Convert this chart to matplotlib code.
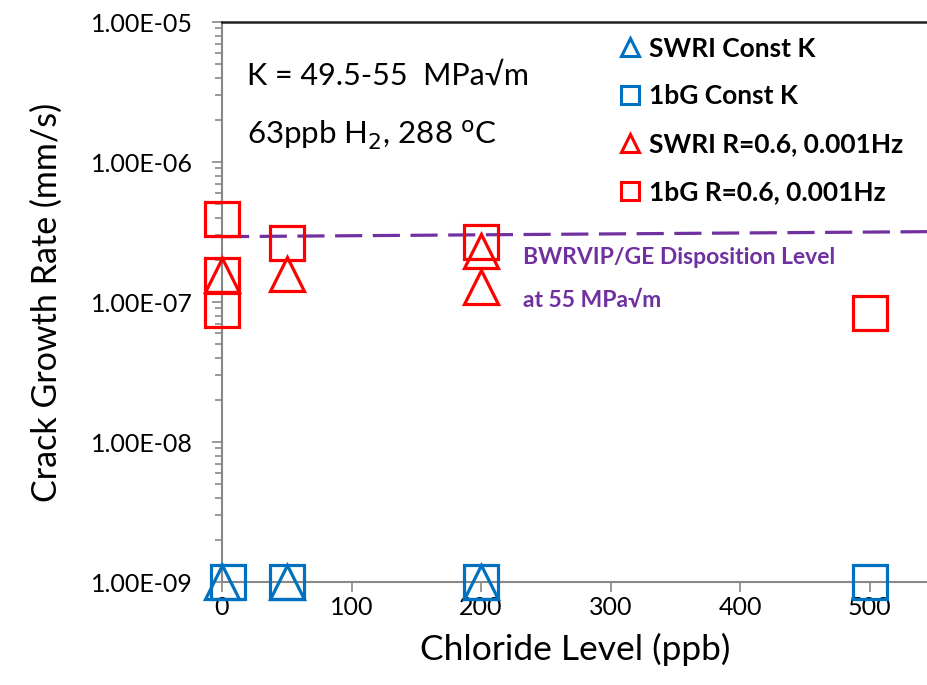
import matplotlib
matplotlib.use("Agg")
import matplotlib.pyplot as plt
from matplotlib.lines import Line2D
from matplotlib.ticker import LogLocator, FixedLocator

plt.rcParams['font.family'] = ['Lato', 'DejaVu Sans']

# Data
swri_ck_x = [0, 50, 200]
swri_ck_y = [1e-9, 1e-9, 1e-9]
bg_ck_x = [5, 50, 200, 500]
bg_ck_y = [1e-9, 1e-9, 1e-9, 1e-9]
swri_cyc_x = [0, 50, 200, 200]
swri_cyc_y = [1.56e-7, 1.58e-7, 2.33e-7, 1.27e-7]
bg_cyc_x = [0, 0, 0, 50, 200, 500]
bg_cyc_y = [3.9e-7, 1.57e-7, 8.8e-8, 2.62e-7, 2.68e-7, 8.4e-8]
disp_x = [0, 545]
disp_y = [2.93e-7, 3.18e-7]
xticks = [0, 100, 200, 300, 400, 500]
yticks = [1e-9, 1e-8, 1e-7, 1e-6, 1e-5]
ytick_labels = ["1.00E-09", "1.00E-08", "1.00E-07", "1.00E-06", "1.00E-05"]

blue = "#0070C0"
red = "#FF0000"
purple = "#7030A0"

fig = plt.figure(figsize=(9.28, 6.85), dpi=100)
ax = fig.add_axes([222/928, 103/685, 1 - 222/928, 560/685])
ax.set_yscale('log')
ax.set_xlim(0, 545)
ax.set_ylim(1e-9, 1e-5)

ms_sq = 25
ms_tr = 24
mew = 2.3
ax.plot(disp_x, disp_y, color=purple, lw=2.3, dashes=(8.5, 3.3), zorder=2)
ax.plot(bg_cyc_x, bg_cyc_y, ls='none', marker='s', ms=ms_sq, mfc='none', mec=red, mew=mew, clip_on=False, zorder=3)
ax.plot(swri_cyc_x, swri_cyc_y, ls='none', marker='^', ms=ms_tr, mfc='none', mec=red, mew=mew, clip_on=False, zorder=3)
ax.plot(bg_ck_x, bg_ck_y, ls='none', marker='s', ms=ms_sq, mfc='none', mec=blue, mew=mew, clip_on=False, zorder=3)
ax.plot(swri_ck_x, swri_ck_y, ls='none', marker='^', ms=ms_tr, mfc='none', mec=blue, mew=mew, clip_on=False, zorder=3)

ax.set_xticks(xticks)
ax.set_xticklabels([str(v) for v in xticks], fontsize=18)
ax.yaxis.set_major_locator(FixedLocator(yticks))
ax.set_yticklabels(ytick_labels, fontsize=18)
ax.yaxis.set_minor_locator(LogLocator(base=10, subs=range(2, 10)))
ax.tick_params(axis='x', which='major', direction='out', length=7, width=1.2, color='#888888', pad=3)
ax.tick_params(axis='y', which='major', direction='out', length=7, width=1.2, color='#888888', pad=14)
ax.tick_params(axis='y', which='minor', direction='out', length=5, width=1.2, color='#888888')
ax.tick_params(axis='y', which='minor', labelleft=False)

for s in ['left', 'bottom']:
    ax.spines[s].set_color('#888888')
    ax.spines[s].set_linewidth(1.5)
ax.spines['top'].set_color('#222222')
ax.spines['top'].set_linewidth(1.8)
ax.spines['right'].set_visible(False)

ax.set_xlabel("Chloride Level (ppb)", fontsize=25.5, labelpad=10)
ax.set_ylabel("Crack Growth Rate (mm/s)", fontsize=24.5, labelpad=20)

ax.text(19, 4.1e-6, "K = 49.5-55  MPa\u221am", fontsize=22, va='center', ha='left')
ax.text(19, 1.55e-6, "63ppb H$_2$, 288 $^{\\mathrm{o}}$C", fontsize=22.5, va='center', ha='left')
ax.text(232, 2.07e-7, "BWRVIP/GE Disposition Level", fontsize=16.5, fontweight='bold', color=purple, va='center')
ax.text(232, 1.03e-7, "at 55 MPa\u221am", fontsize=16.5, fontweight='bold', color=purple, va='center')

handles = [
    Line2D([], [], ls='none', marker='^', ms=13, mfc='none', mec=blue, mew=2.2, label='SWRI Const K'),
    Line2D([], [], ls='none', marker='s', ms=13, mfc='none', mec=blue, mew=2.2, label='1bG Const K'),
    Line2D([], [], ls='none', marker='^', ms=13, mfc='none', mec=red, mew=2.2, label='SWRI R=0.6, 0.001Hz'),
    Line2D([], [], ls='none', marker='s', ms=13, mfc='none', mec=red, mew=2.2, label='1bG R=0.6, 0.001Hz'),
]
leg = ax.legend(handles=handles, loc='upper right', bbox_to_anchor=(0.985, 1.0), frameon=False,
                prop={'weight': 'bold', 'size': 19}, handlelength=0.8, handletextpad=0.3,
                labelspacing=0.9, borderaxespad=0.15)

fig.savefig("out.png", dpi=100)
